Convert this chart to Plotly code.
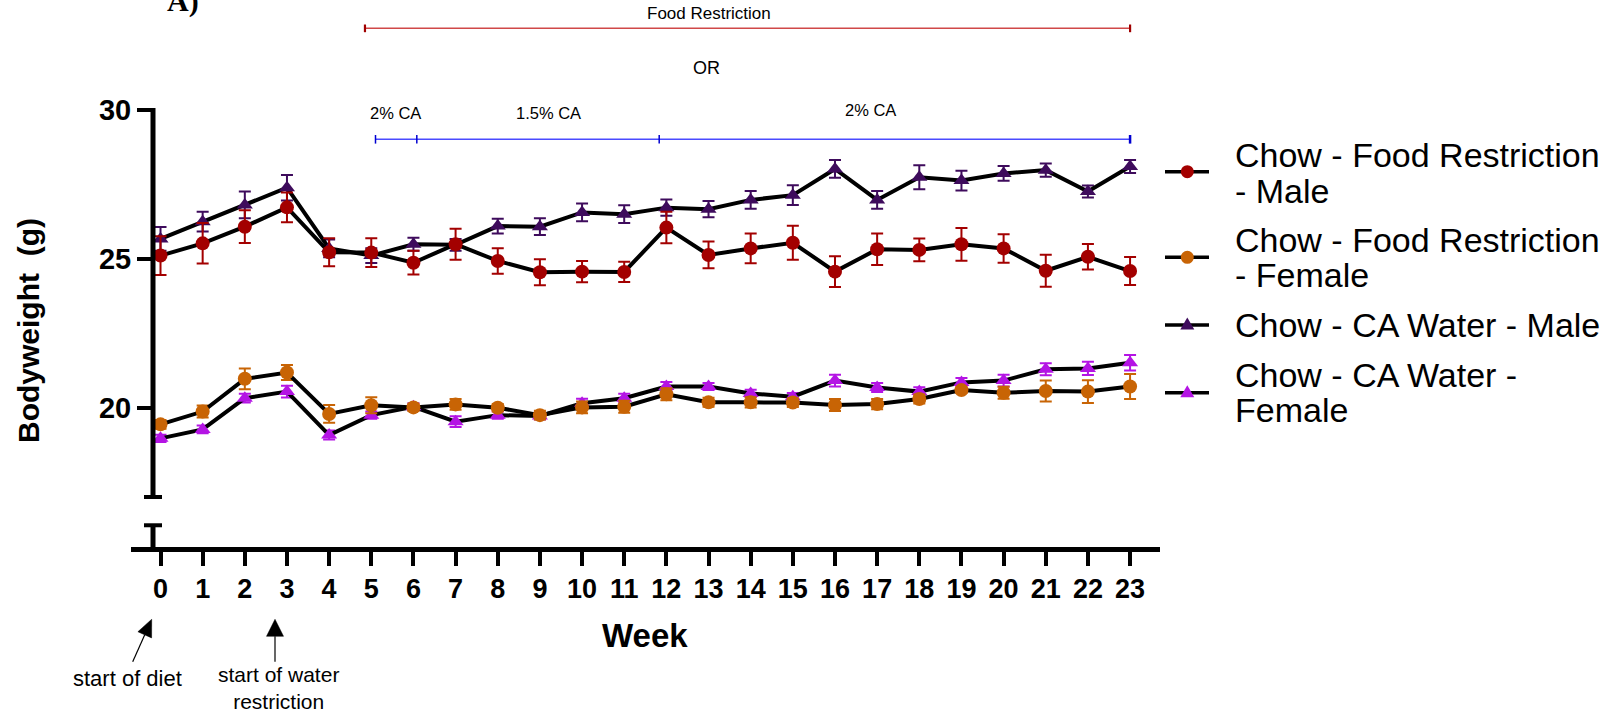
import math
import plotly.graph_objects as go

# ---- data: mean bodyweight (g) and SEM per week ----
weeks = list(range(24))

fr_male = [25.11, 25.52, 26.08, 26.73, 25.22, 25.21, 24.87, 25.49, 24.93, 24.55, 24.57, 24.56,
           26.05, 25.13, 25.35, 25.54, 24.57, 25.32, 25.30, 25.49, 25.35, 24.60, 25.07, 24.59]
fr_male_se = [0.65, 0.68, 0.55, 0.50, 0.47, 0.48, 0.40, 0.52, 0.43, 0.44, 0.36, 0.34,
              0.53, 0.45, 0.50, 0.57, 0.52, 0.53, 0.38, 0.55, 0.48, 0.54, 0.43, 0.47]

fr_female = [19.44, 19.87, 20.97, 21.18, 19.79, 20.08, 20.01, 20.11, 20.00, 19.75, 20.01, 20.03,
             20.45, 20.18, 20.18, 20.17, 20.09, 20.12, 20.29, 20.59, 20.50, 20.56, 20.54, 20.71]
fr_female_se = [0.15, 0.20, 0.35, 0.25, 0.30, 0.27, 0.12, 0.18, 0.12, 0.15, 0.20, 0.20,
                0.20, 0.15, 0.17, 0.15, 0.20, 0.17, 0.15, 0.10, 0.20, 0.35, 0.38, 0.42]

ca_male = [25.67, 26.25, 26.81, 27.39, 25.35, 25.11, 25.49, 25.47, 26.10, 26.08, 26.56, 26.50,
           26.72, 26.67, 26.98, 27.14, 28.02, 26.98, 27.74, 27.63, 27.87, 27.98, 27.26, 28.10]
ca_male_se = [0.40, 0.33, 0.45, 0.43, 0.30, 0.25, 0.22, 0.20, 0.25, 0.28, 0.30, 0.30,
              0.27, 0.27, 0.30, 0.33, 0.30, 0.30, 0.40, 0.33, 0.25, 0.22, 0.20, 0.22]

ca_female = [18.97, 19.27, 20.32, 20.54, 19.08, 19.75, 20.03, 19.53, 19.75, 19.72, 20.15, 20.32,
             20.71, 20.71, 20.48, 20.37, 20.91, 20.68, 20.54, 20.85, 20.91, 21.29, 21.32, 21.51]
ca_female_se = [0.12, 0.13, 0.15, 0.20, 0.15, 0.12, 0.12, 0.18, 0.12, 0.12, 0.15, 0.15,
                0.15, 0.12, 0.12, 0.12, 0.20, 0.15, 0.15, 0.15, 0.20, 0.20, 0.22, 0.26]

series_names = ["Chow - Food Restriction - Male", "Chow - Food Restriction - Female",
                "Chow - CA Water - Male", "Chow - CA Water - Female"]
y_ticks = [20, 25, 30]

# treatment periods (weeks)
food_restriction_span = (4.85, 23)
ca_marks = [5.1, 6.08, 11.83, 23]

# ---- styling ----
W, H = 1603, 715
ML, MR, MT, MB = 131, 443, 100, 168
PW, PH = W - ML - MR, H - MT - MB
X_RANGE = [-0.70, 23.71]
Y_RANGE = [15.32, 30.336]
FONT = "Arial, Liberation Sans, sans-serif"

C_FRM = "#A30000"
C_FRF = "#C86405"
C_CAM = "#3E0B5C"
C_CAF = "#B414E4"


def px(xp):
    return (xp - ML) / PW


def py(yp):
    return (H - MB - yp) / PH


def wx(xp):
    """pixel column -> week units"""
    return X_RANGE[0] + (xp - ML) / PW * (X_RANGE[1] - X_RANGE[0])


fig = go.Figure()


def add_series(y, se, color, symbol, size, name):
    fig.add_trace(go.Scatter(
        x=weeks, y=y, name=name, mode="lines+markers",
        line=dict(color="black", width=4),
        marker=dict(color=color, symbol=symbol, size=size, line=dict(width=0)),
        error_y=dict(type="data", array=se, visible=True, color=color,
                     thickness=2, width=6),
        showlegend=False, hoverinfo="skip",
    ))


add_series(ca_male, ca_male_se, C_CAM, "triangle-up", 14, series_names[2])
add_series(ca_female, ca_female_se, C_CAF, "triangle-up", 14, series_names[3])
add_series(fr_male, fr_male_se, C_FRM, "circle", 14, series_names[0])
add_series(fr_female, fr_female_se, C_FRF, "circle", 14, series_names[1])

shapes = []

# broken y axis drawn by hand
y_axis_x = wx(153)
cap = 9 / PW * (X_RANGE[1] - X_RANGE[0])
shapes.append(dict(type="line", xref="x", yref="y", x0=y_axis_x, x1=y_axis_x,
                   y0=17, y1=30.07, line=dict(color="black", width=5)))
shapes.append(dict(type="line", xref="x", yref="y", x0=y_axis_x - cap, x1=y_axis_x + cap,
                   y0=17, y1=17, line=dict(color="black", width=4)))
shapes.append(dict(type="line", xref="x", yref="y", x0=y_axis_x - cap, x1=y_axis_x + cap,
                   y0=16.05, y1=16.05, line=dict(color="black", width=4)))
shapes.append(dict(type="line", xref="x", yref="y", x0=y_axis_x, x1=y_axis_x,
                   y0=16.05, y1=Y_RANGE[0], line=dict(color="black", width=5)))

# Food restriction bracket
fr_y = py(28.3)
shapes.append(dict(type="line", xref="x", yref="paper", x0=food_restriction_span[0],
                   x1=food_restriction_span[1], y0=fr_y, y1=fr_y,
                   line=dict(color="#D04848", width=1.5)))
for xv in food_restriction_span:
    shapes.append(dict(type="line", xref="x", yref="paper", x0=xv, x1=xv,
                       y0=py(24.5), y1=py(32.2), line=dict(color="#A00000", width=2.2)))

# CA concentration bracket
ca_y = py(139.3)
shapes.append(dict(type="line", xref="x", yref="paper", x0=ca_marks[0], x1=ca_marks[-1],
                   y0=ca_y, y1=ca_y, line=dict(color="#4A4AFF", width=1.5)))
for i, xv in enumerate(ca_marks):
    shapes.append(dict(type="line", xref="x", yref="paper", x0=xv, x1=xv,
                       y0=py(135), y1=py(143.6),
                       line=dict(color="#0000D0", width=2.5 if i == len(ca_marks) - 1 else 1.5)))


def arrow(tail, tip, head_len, head_w):
    dx, dy = tip[0] - tail[0], tip[1] - tail[1]
    L = math.hypot(dx, dy)
    ux, uy = dx / L, dy / L
    nx, ny = -uy, ux
    bx, by = tip[0] - head_len * ux, tip[1] - head_len * uy
    shapes.append(dict(type="line", xref="paper", yref="paper",
                       x0=px(tail[0]), y0=py(tail[1]), x1=px(bx), y1=py(by),
                       line=dict(color="black", width=1.2)))
    p1 = (bx + nx * head_w / 2, by + ny * head_w / 2)
    p2 = (bx - nx * head_w / 2, by - ny * head_w / 2)
    path = (f"M{px(tip[0])},{py(tip[1])} L{px(p1[0])},{py(p1[1])} "
            f"L{px(p2[0])},{py(p2[1])} Z")
    shapes.append(dict(type="path", xref="paper", yref="paper", path=path,
                       fillcolor="black", line=dict(color="black", width=0.5)))


arrow((132.7, 661.7), (151.7, 619.3), 17, 15)
arrow((275, 661.7), (275, 619.3), 17, 17)

# hand-built legend
legend_rows = [(171.7, C_FRM, "circle"), (257.3, C_FRF, "circle"),
               (325.0, C_CAM, "tri"), (392.7, C_CAF, "tri")]
for yy, col, sym in legend_rows:
    shapes.append(dict(type="line", xref="paper", yref="paper", x0=px(1165), x1=px(1209),
                       y0=py(yy), y1=py(yy), line=dict(color="black", width=3.5)))
    cx = 1187.3
    if sym == "circle":
        shapes.append(dict(type="circle", xref="paper", yref="paper",
                           x0=px(cx - 6.5), x1=px(cx + 6.5), y0=py(yy - 6.5), y1=py(yy + 6.5),
                           fillcolor=col, line=dict(width=0)))
    else:
        path = (f"M{px(cx)},{py(yy - 7.5)} L{px(cx + 7)},{py(yy + 4.5)} "
                f"L{px(cx - 7)},{py(yy + 4.5)} Z")
        shapes.append(dict(type="path", xref="paper", yref="paper", path=path,
                           fillcolor=col, line=dict(width=0)))

annotations = []


def text(t, x, y, size, bold=False, family=FONT, xanchor="center", angle=0):
    annotations.append(dict(text=t, xref="paper", yref="paper", x=px(x), y=py(y),
                            xanchor=xanchor, yanchor="middle", showarrow=False,
                            textangle=angle,
                            font=dict(family=family, size=size, color="black",
                                      weight="bold" if bold else "normal")))


text("A)", 183, 1, 30, bold=True, family="Liberation Serif, Times New Roman, serif")
text("Food Restriction", 709, 13.3, 17)
text("OR", 706.7, 68, 18)
text("2% CA", 395, 113.3, 16.5)
text("1.5% CA", 548.3, 113, 16.5)
text("2% CA", 870, 110, 16.5)
text("start of diet", 127.5, 678, 22)
text("start of water<br>restriction", 278, 688, 21)
text("Week", 645, 635, 33, bold=True)
text("Bodyweight  (g)", 28, 331, 30, bold=True, angle=-90)

legend_text = [("Chow - Food Restriction", 155), ("- Male", 191),
               ("Chow - Food Restriction", 240), ("- Female", 275),
               ("Chow - CA Water - Male", 325),
               ("Chow - CA Water -", 375), ("Female", 410)]
for t, yy in legend_text:
    text(t, 1233, yy, 34, xanchor="left")

fig.update_layout(
    width=W, height=H,
    margin=dict(l=ML, r=MR, t=MT, b=MB, pad=0),
    paper_bgcolor="white", plot_bgcolor="white",
    font=dict(family=FONT, color="black"),
    shapes=shapes, annotations=annotations,
    showlegend=False,
    xaxis=dict(range=X_RANGE, tickmode="array", tickvals=weeks,
               ticktext=[str(w) for w in weeks],
               showgrid=False, zeroline=False,
               showline=True, linecolor="black", linewidth=5,
               ticks="outside", ticklen=14, tickwidth=4, tickcolor="black",
               tickfont=dict(family=FONT, size=27, color="black", weight="bold")),
    yaxis=dict(range=Y_RANGE, tickmode="array", tickvals=y_ticks,
               showgrid=False, zeroline=False, showline=False,
               anchor="free", position=px(153),
               ticks="outside", ticklen=16, tickwidth=4, tickcolor="black",
               tickfont=dict(family=FONT, size=29, color="black", weight="bold")),
)

fig.write_html("out.html")
